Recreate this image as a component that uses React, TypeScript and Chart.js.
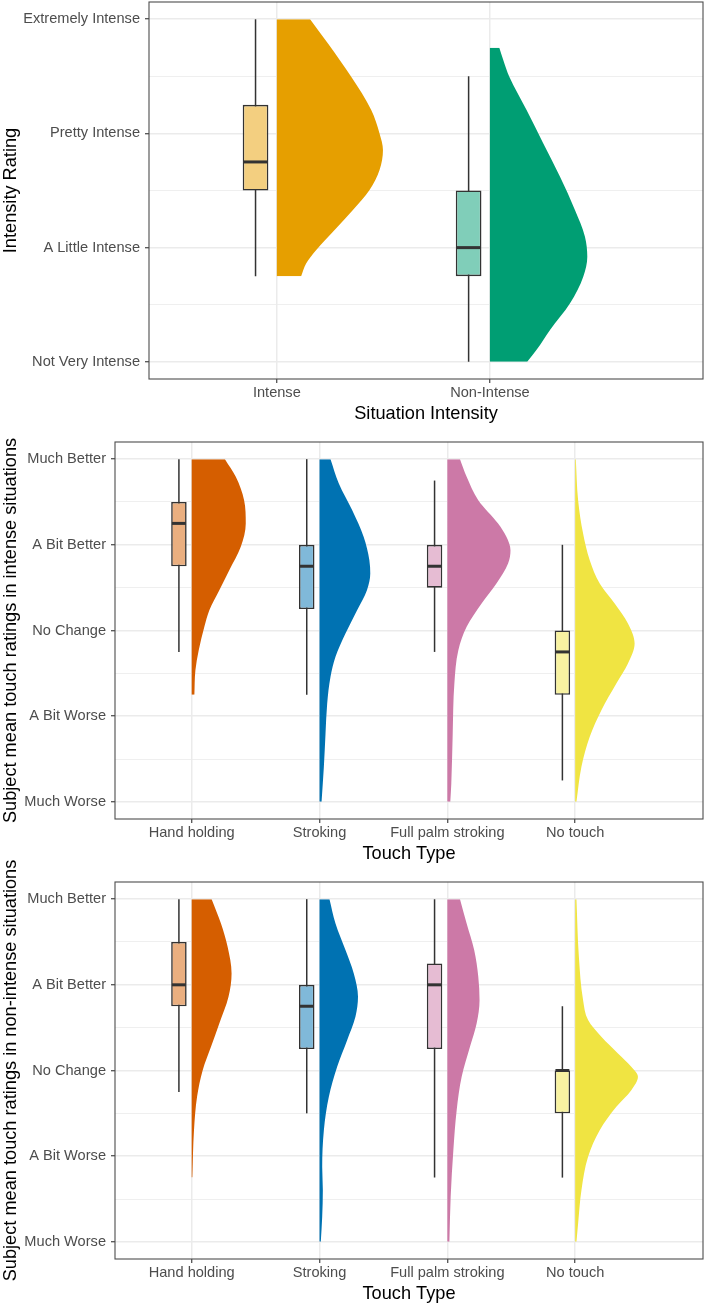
import React, { useEffect, useRef } from "react";
import { Chart, registerables } from "chart.js";

Chart.register(...registerables);

// ---------------- DATA ----------------
const situationCategories = ["Intense", "Non-Intense"];
const intensityLabels = ["Not Very Intense", "A Little Intense", "Pretty Intense", "Extremely Intense"];
const touchCategories = ["Hand holding", "Stroking", "Full palm stroking", "No touch"];
const changeLabels = ["Much Worse", "A Bit Worse", "No Change", "A Bit Better", "Much Better"];

// Panel 1: intensity rating by situation (box stats)
const p1Min = [1.75, 1.0];
const p1Q1 = [2.5, 1.75];
const p1Median = [2.75, 2.0];
const p1Q3 = [3.25, 2.5];
const p1Max = [4.0, 3.5];
// half-violin density profiles: [rating, half-width]
const p1IntenseViolin = [[4.0, 0.156], [3.787, 0.24], [3.495, 0.349], [3.204, 0.443], [3.0, 0.482], [2.854, 0.498], [2.679, 0.482], [2.504, 0.435], [2.33, 0.357], [2.155, 0.271], [1.98, 0.185], [1.863, 0.138], [1.75, 0.114]];
const p1NonIntenseViolin = [[3.75, 0.044], [3.641, 0.063], [3.495, 0.091], [3.204, 0.172], [2.913, 0.25], [2.621, 0.329], [2.33, 0.399], [2.096, 0.446], [1.921, 0.457], [1.746, 0.438], [1.513, 0.376], [1.28, 0.282], [1.105, 0.219], [1.0, 0.175]];

// Panel 2: touch ratings in intense situations
const p2Min = [2.75, 2.25, 2.75, 1.25];
const p2Q1 = [3.75, 3.25, 3.5, 2.25];
const p2Median = [4.25, 3.75, 3.75, 2.75];
const p2Q3 = [4.5, 4.0, 4.0, 3.0];
const p2Max = [5.0, 5.0, 4.75, 4.0];
const p2HandViolin = [[5.0, 0.26], [4.794, 0.345], [4.521, 0.41], [4.249, 0.423], [3.977, 0.384], [3.704, 0.294], [3.471, 0.216], [3.237, 0.138], [3.043, 0.099], [2.77, 0.055], [2.537, 0.029], [2.25, 0.021]];
const p2StrokeViolin = [[5.0, 0.086], [4.716, 0.151], [4.405, 0.255], [4.093, 0.345], [3.821, 0.39], [3.665, 0.397], [3.471, 0.371], [3.237, 0.294], [2.965, 0.203], [2.693, 0.125], [2.459, 0.086], [2.148, 0.06], [1.798, 0.047], [1.409, 0.034], [1.0, 0.016]];
const p2PalmViolin = [[5.0, 0.099], [4.794, 0.151], [4.521, 0.242], [4.249, 0.397], [4.093, 0.462], [3.938, 0.494], [3.782, 0.475], [3.549, 0.384], [3.315, 0.268], [3.043, 0.151], [2.77, 0.086], [2.381, 0.055], [1.798, 0.042], [1.214, 0.031], [1.0, 0.023]];
const p2NoTouchViolin = [[5.0, 0.005], [4.521, 0.023], [4.132, 0.062], [3.821, 0.114], [3.549, 0.192], [3.315, 0.309], [3.082, 0.413], [2.848, 0.465], [2.615, 0.413], [2.381, 0.322], [2.07, 0.205], [1.759, 0.114], [1.409, 0.049], [1.0, 0.01]];

// Panel 3: touch ratings in non-intense situations
const p3Min = [2.75, 2.5, 1.75, 1.75];
const p3Q1 = [3.75, 3.25, 3.25, 2.5];
const p3Median = [4.0, 3.75, 4.0, 3.0];
const p3Q3 = [4.5, 4.0, 4.25, 3.0];
const p3Max = [5.0, 5.0, 5.0, 3.75];
const p3HandViolin = [[5.0, 0.156], [4.716, 0.229], [4.444, 0.281], [4.132, 0.312], [3.86, 0.288], [3.549, 0.216], [3.276, 0.151], [3.004, 0.086], [2.693, 0.042], [2.304, 0.018], [1.75, 0.005]];
const p3StrokeViolin = [[5.0, 0.078], [4.716, 0.125], [4.405, 0.203], [4.132, 0.268], [3.86, 0.301], [3.626, 0.281], [3.354, 0.216], [3.043, 0.138], [2.693, 0.073], [2.304, 0.034], [1.875, 0.021], [1.603, 0.026], [1.292, 0.021], [1.0, 0.01]];
const p3PalmViolin = [[5.0, 0.099], [4.716, 0.151], [4.405, 0.21], [4.093, 0.242], [3.821, 0.252], [3.549, 0.229], [3.276, 0.177], [2.926, 0.112], [2.537, 0.073], [2.07, 0.047], [1.525, 0.026], [1.0, 0.016]];
const p3NoTouchViolin = [[5.0, 0.01], [4.327, 0.029], [3.821, 0.062], [3.588, 0.101], [3.393, 0.205], [3.198, 0.335], [3.043, 0.439], [2.926, 0.491], [2.77, 0.439], [2.576, 0.322], [2.304, 0.192], [1.992, 0.101], [1.603, 0.049], [1.214, 0.023], [1.0, 0.01]];

// ---------------- STYLE ----------------
const FONT = "'Liberation Sans', Arial, Helvetica, sans-serif";
const W = 705;
const PANEL_H = 440;
const OVER = 40;
const BOX_NUDGE = -0.1;
const situationColors = ["#E69F00", "#009E73"];
const situationBoxColors = ["#F3CF80", "#80CEB9"];
const touchColors = ["#D55E00", "#0072B2", "#CC79A7", "#F0E442"];
const touchBoxColors = ["#EAAF80", "#80B9D9", "#E6BCD3", "#F8F2A1"];

type Spec = {
  categories: string[];
  ratingLabels: string[];
  min: number[]; q1: number[]; median: number[]; q3: number[]; max: number[];
  violins: number[][][];
  colors: string[];
  boxColors: string[];
  xTitle: string;
  yTitle: string;
  yAxisWidth: number;
  xMax: number;
  boxPx: number;
};

const panels: Spec[] = [
  {
    categories: situationCategories, ratingLabels: intensityLabels,
    min: p1Min, q1: p1Q1, median: p1Median, q3: p1Q3, max: p1Max,
    violins: [p1IntenseViolin, p1NonIntenseViolin],
    colors: situationColors, boxColors: situationBoxColors,
    xTitle: "Situation Intensity", yTitle: "Intensity Rating",
    yAxisWidth: 149, xMax: 3.0, boxPx: 25.7,
  },
  {
    categories: touchCategories, ratingLabels: changeLabels,
    min: p2Min, q1: p2Q1, median: p2Median, q3: p2Q3, max: p2Max,
    violins: [p2HandViolin, p2StrokeViolin, p2PalmViolin, p2NoTouchViolin],
    colors: touchColors, boxColors: touchBoxColors,
    xTitle: "Touch Type", yTitle: "Subject mean touch ratings in intense situations",
    yAxisWidth: 115, xMax: 5.0, boxPx: 15.5,
  },
  {
    categories: touchCategories, ratingLabels: changeLabels,
    min: p3Min, q1: p3Q1, median: p3Median, q3: p3Q3, max: p3Max,
    violins: [p3HandViolin, p3StrokeViolin, p3PalmViolin, p3NoTouchViolin],
    colors: touchColors, boxColors: touchBoxColors,
    xTitle: "Touch Type", yTitle: "Subject mean touch ratings in non-intense situations",
    yAxisWidth: 115, xMax: 5.0, boxPx: 15.5,
  },
];

const panelBorder = {
  id: "panelBorder",
  afterDatasetsDraw(chart: any) {
    const { ctx, chartArea } = chart;
    ctx.save();
    ctx.strokeStyle = "#4D4D4D";
    ctx.lineWidth = 1.1;
    ctx.strokeRect(chartArea.left, chartArea.top, chartArea.right - chartArea.left, chartArea.bottom - chartArea.top);
    ctx.restore();
  },
};

function buildConfig(p: Spec): any {
  const n = p.ratingLabels.length;
  const yTicks: number[] = [];
  for (let k = 2; k <= 2 * n; k++) yTicks.push(k / 2);
  const yExpand = (n - 1) * 0.05;
  const isMajor = (v: number) => Math.abs(v - Math.round(v)) < 1e-6;
  const boxX = (i: number) => i + 1 + BOX_NUDGE;

  const datasets: any[] = [];
  p.violins.forEach((prof, i) => {
    datasets.push({
      type: "line",
      indexAxis: "y",
      data: prof.map(([v, w]) => ({ x: i + 1 + w, y: v })),
      fill: { value: i + 1 },
      backgroundColor: p.colors[i],
      borderColor: "rgba(0,0,0,0)",
      borderWidth: 0,
      pointRadius: 0,
      pointHoverRadius: 0,
      cubicInterpolationMode: "monotone",
      order: 4,
    });
  });
  datasets.push({
    type: "bar",
    data: p.categories.map((_, i) => ({ x: boxX(i), y: [p.min[i], p.max[i]] })),
    backgroundColor: "#333333",
    borderWidth: 0,
    grouped: false,
    maxBarThickness: 1.5,
    order: 3,
  });
  datasets.push({
    type: "bar",
    data: p.categories.map((_, i) => ({ x: boxX(i), y: [p.q1[i], p.q3[i]] })),
    backgroundColor: p.boxColors,
    borderColor: "#333333",
    borderWidth: 1.6,
    borderSkipped: false,
    grouped: false,
    maxBarThickness: p.boxPx,
    order: 2,
  });
  datasets.push({
    type: "line",
    showLine: false,
    data: p.categories.map((_, i) => ({ x: boxX(i), y: p.median[i] })),
    pointStyle: "line",
    pointRadius: p.boxPx / 2 - 0.8,
    pointHoverRadius: p.boxPx / 2 - 0.8,
    pointBorderWidth: 3,
    pointBorderColor: "#333333",
    pointBackgroundColor: "#333333",
    order: 1,
  });

  return {
    type: "line",
    data: { datasets },
    plugins: [panelBorder],
    options: {
      animation: false,
      responsive: false,
      maintainAspectRatio: false,
      events: [],
      layout: { autoPadding: false, padding: { top: OVER + 2, left: 0, right: 2, bottom: OVER } },
      plugins: { legend: { display: false }, tooltip: { enabled: false } },
      scales: {
        x: {
          type: "linear",
          min: 0.4,
          max: p.xMax,
          offset: false,
          beginAtZero: false,
          afterBuildTicks: (s: any) => {
            s.ticks = p.categories.map((_, i) => ({ value: i + 1 }));
          },
          afterFit: (s: any) => {
            s.height = 61;
            s.paddingLeft = 0;
            s.paddingRight = 0;
          },
          ticks: {
            autoSkip: false,
            maxRotation: 0,
            padding: 1.5,
            color: "#4D4D4D",
            font: { family: FONT, size: 14.6 },
            callback: (v: number) => p.categories[Math.round(v) - 1] ?? "",
          },
          grid: {
            offset: false,
            color: "#EBEBEB",
            lineWidth: 1.5,
            tickLength: 4,
            tickColor: "#333333",
            tickWidth: 1.1,
          },
          border: { display: false },
          title: {
            display: true,
            text: p.xTitle,
            color: "#000000",
            font: { family: FONT, size: 18.2 },
            padding: { top: 0, bottom: 15 },
          },
        },
        y: {
          type: "linear",
          min: 1 - yExpand,
          max: n + yExpand,
          offset: false,
          beginAtZero: false,
          afterBuildTicks: (s: any) => {
            s.ticks = yTicks.map((v) => ({ value: v }));
          },
          afterFit: (s: any) => {
            s.width = p.yAxisWidth;
            s.paddingTop = 0;
            s.paddingBottom = 0;
          },
          ticks: {
            autoSkip: false,
            padding: 5,
            color: "#4D4D4D",
            font: { family: FONT, size: 14.6 },
            callback: (v: number) => (isMajor(v) ? p.ratingLabels[Math.round(v) - 1] : ""),
          },
          grid: {
            offset: false,
            color: "#EBEBEB",
            lineWidth: (c: any) => (c.tick && isMajor(c.tick.value) ? 1.5 : 0.8),
            tickLength: 4,
            tickColor: (c: any) => (c.tick && isMajor(c.tick.value) ? "#333333" : "rgba(0,0,0,0)"),
            tickWidth: 1.1,
          },
          border: { display: false },
          title: {
            display: true,
            text: p.yTitle,
            color: "#000000",
            font: { family: FONT, size: 18.2 },
            padding: { top: 0, bottom: 0 },
          },
        },
      },
    },
  };
}

function Panel({ spec, top }: { spec: Spec; top: number }) {
  const ref = useRef<HTMLCanvasElement | null>(null);
  useEffect(() => {
    if (!ref.current) return;
    const chart = new Chart(ref.current, buildConfig(spec));
    return () => chart.destroy();
  }, [spec]);
  const h = PANEL_H + 2 * OVER;
  return (
    <canvas
      ref={ref}
      width={W}
      height={h}
      style={{ position: "absolute", left: 0, top, width: W, height: h, display: "block" }}
    />
  );
}

export default function App() {
  return (
    <div
      style={{
        position: "absolute",
        left: 0,
        top: 0,
        width: W,
        height: 1304,
        overflow: "hidden",
        background: "#ffffff",
      }}
    >
      {panels.map((p, i) => (
        <Panel key={i} spec={p} top={i * PANEL_H - OVER} />
      ))}
    </div>
  );
}
